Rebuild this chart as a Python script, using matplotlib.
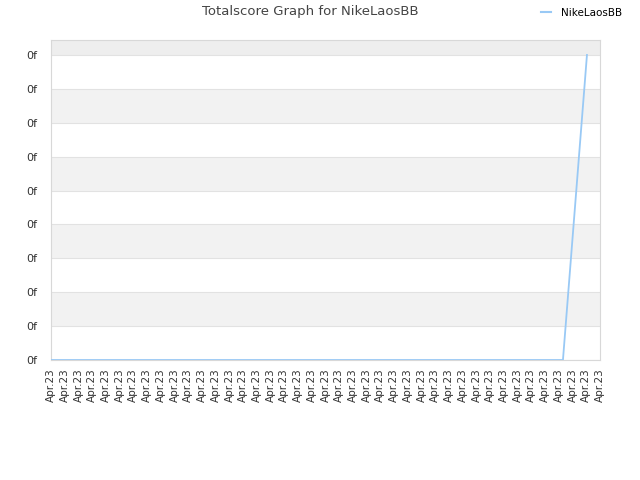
import matplotlib
matplotlib.use("Agg")
import matplotlib.pyplot as plt
from matplotlib.lines import Line2D

# Data
x_ticks = list(range(41))
x_labels = ["Apr.23"] * 41
y_ticks = list(range(10))
y_labels = ["0f"] * 10
score_x = [0, 37.3, 39.05]
score_y = [0, 0, 9]
player = "NikeLaosBB"

fig = plt.figure(figsize=(6.4, 4.8), dpi=100, facecolor="white")
ax = fig.add_axes([51 / 640, 1 - 360 / 480, 549 / 640, 320 / 480])

ax.set_xlim(0, 40)
ax.set_ylim(0, 9 + 15 / 34)

# alternating horizontal bands
for i in range(len(y_ticks)):
    lo = y_ticks[i]
    hi = y_ticks[i + 1] if i + 1 < len(y_ticks) else ax.get_ylim()[1]
    if i % 2 == 1:
        ax.axhspan(lo, hi, color="#f2f2f2", lw=0, zorder=0)
ax.axhspan(9, ax.get_ylim()[1], color="#eeeeee", lw=0, zorder=0)
for yv in y_ticks:
    ax.axhline(yv, color="#e2e2e2", lw=0.8, zorder=1)

ax.plot(score_x, score_y, color="#99c9f5", lw=1.3, zorder=3)

ax.set_xticks(x_ticks)
ax.set_xticklabels(x_labels, rotation=90, fontsize=7.5, color="#333333")
ax.set_yticks(y_ticks)
ax.set_yticklabels(y_labels, fontsize=8, color="#333333")
ax.tick_params(axis="x", length=0, pad=6)
ax.tick_params(axis="y", length=0, pad=10)
for spine in ax.spines.values():
    spine.set_color("#d8d8d8")

fig.text(310 / 640, 1 - 12 / 480, "Totalscore Graph for " + player, ha="center",
         va="center", fontsize=9.5, color="#444444")

handle = Line2D([], [], color="#99c9f5", lw=1.5)
fig.legend([handle], [player], loc="center right", bbox_to_anchor=(632 / 640, 1 - 13 / 480),
           frameon=False, fontsize=7.5, handlelength=1.0, handletextpad=1.0)

fig.savefig("out.png", dpi=100, facecolor="white")
